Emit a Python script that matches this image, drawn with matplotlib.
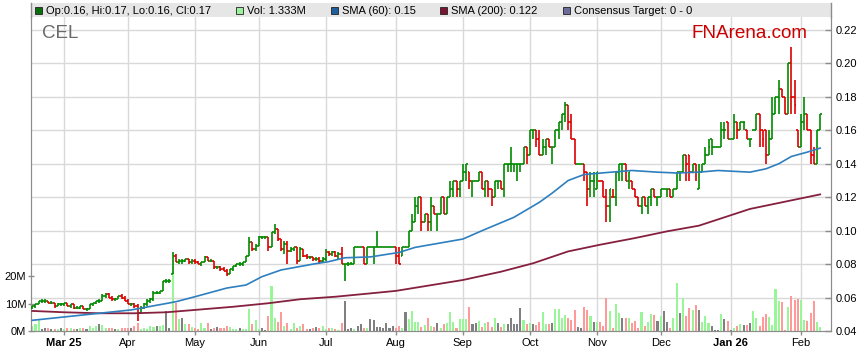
import numpy as np
import matplotlib
matplotlib.use('Agg')
import matplotlib.pyplot as plt
from matplotlib.patches import Rectangle
from matplotlib.lines import Line2D
from matplotlib.transforms import blended_transform_factory
from matplotlib.ticker import FormatStrFormatter

plt.rcParams['font.family'] = ['Liberation Sans', 'DejaVu Sans']

# daily OHLC (one entry per trading day, Feb 2025 - Feb 2026)
opens = [
    .054, .055, .056, .058, .058, .058, .057, .057, .055, .056,
    .056, .057, .055, .056, .054, .054, .055, .053, .053, .056,
    .057, .058, .058, .061, .062, .060, .059, .059, .061, .060,
    .058, .056, .056, .055, .051, .054, .056, .058, .059, .063,
    .063, .064, .070, .070, .074, .085, .081, .082, .082, .083,
    .081, .082, .081, .080, .081, .084, .082, .082, .078, .078,
    .077, .076, .074, .077, .079, .080, .080, .081, .085, .093,
    .089, .091, .096, .096, .096, .090, .099, .101, .095, .089,
    .092, .088, .089, .090, .082, .089, .085, .084, .084, .083,
    .083, .082, .083, .087, .086, .087, .085, .086, .080, .080,
    .080, .080, .090, .090, .090, .080, .090, .090, .090, .090,
    .090, .090, .090, .090, .090, .085, .085, .090, .090, .100,
    .105, .115, .120, .105, .110, .105, .115, .110, .110, .120,
    .110, .120, .125, .130, .125, .130, .135, .135, .130, .130,
    .130, .135, .125, .130, .125, .120, .130, .130, .125, .140,
    .140, .140, .140, .140, .140, .150, .145, .160, .160, .155,
    .145, .150, .155, .150, .150, .160, .165, .170, .175, .165,
    .155, .140, .140, .140, .135, .125, .130, .125, .130, .130,
    .120, .115, .120, .120, .135, .140, .140, .130, .130, .125,
    .120, .115, .120, .115, .120, .125, .120, .120, .125, .125,
    .125, .120, .125, .135, .135, .145, .145, .135, .140, .125,
    .135, .140, .145, .155, .150, .150, .150, .160, .165, .155,
    .155, .165, .160, .165, .160, .155, .160, .160, .170, .160,
    .160, .145, .155, .170, .180, .185, .180, .170, .200, .180,
    .160, .150, .165, .170, .160, .145, .140, .160,
]
highs = [
    .055, .056, .058, .059, .059, .058, .058, .057, .057, .057,
    .057, .057, .056, .056, .055, .055, .055, .054, .056, .057,
    .058, .059, .062, .063, .063, .061, .060, .061, .062, .061,
    .059, .057, .057, .056, .055, .057, .059, .060, .064, .064,
    .064, .070, .071, .071, .087, .086, .083, .083, .083, .083,
    .083, .083, .082, .081, .085, .084, .083, .082, .079, .079,
    .078, .077, .077, .079, .080, .081, .081, .085, .096, .093,
    .092, .097, .097, .097, .096, .099, .104, .101, .095, .094,
    .094, .090, .090, .090, .090, .089, .086, .085, .084, .084,
    .084, .084, .089, .088, .088, .088, .087, .090, .080, .081,
    .081, .090, .090, .090, .090, .090, .090, .090, .100, .090,
    .090, .090, .090, .090, .090, .090, .090, .090, .100, .110,
    .120, .120, .120, .110, .110, .120, .115, .110, .120, .120,
    .120, .130, .130, .130, .130, .140, .140, .135, .130, .130,
    .135, .135, .130, .130, .125, .130, .130, .130, .140, .140,
    .150, .140, .140, .140, .150, .150, .160, .160, .160, .160,
    .155, .155, .155, .150, .160, .165, .170, .177, .175, .170,
    .155, .140, .140, .140, .135, .135, .135, .135, .130, .130,
    .125, .125, .125, .135, .140, .140, .140, .135, .130, .125,
    .120, .120, .120, .120, .125, .125, .120, .125, .125, .125,
    .125, .125, .135, .135, .145, .145, .145, .140, .140, .140,
    .140, .150, .155, .155, .150, .150, .165, .165, .165, .155,
    .170, .165, .165, .165, .160, .155, .160, .170, .170, .160,
    .160, .160, .180, .180, .190, .185, .180, .200, .210, .190,
    .160, .170, .180, .170, .160, .150, .160, .170,
]
lows = [
    .053, .054, .056, .057, .057, .057, .056, .054, .055, .055,
    .055, .055, .054, .053, .053, .053, .053, .052, .053, .055,
    .056, .057, .058, .060, .060, .058, .058, .059, .059, .058,
    .056, .055, .054, .046, .050, .053, .055, .057, .058, .062,
    .062, .064, .069, .069, .074, .081, .080, .080, .081, .080,
    .080, .080, .080, .079, .081, .082, .081, .077, .077, .076,
    .076, .073, .074, .076, .078, .079, .079, .081, .085, .088,
    .088, .091, .095, .095, .088, .090, .098, .094, .088, .086,
    .080, .087, .088, .080, .082, .084, .083, .083, .082, .082,
    .080, .081, .082, .085, .085, .084, .083, .080, .070, .079,
    .080, .080, .090, .090, .080, .080, .090, .080, .090, .090,
    .090, .090, .090, .090, .080, .080, .085, .090, .090, .100,
    .105, .110, .100, .105, .100, .100, .110, .100, .110, .110,
    .110, .120, .120, .120, .120, .130, .130, .125, .120, .130,
    .130, .125, .120, .120, .115, .120, .125, .125, .120, .135,
    .135, .135, .130, .135, .140, .140, .145, .155, .150, .145,
    .145, .145, .150, .140, .150, .155, .160, .165, .160, .155,
    .140, .140, .140, .130, .115, .120, .120, .125, .130, .120,
    .105, .105, .120, .115, .130, .130, .130, .125, .125, .120,
    .115, .110, .115, .110, .115, .120, .115, .120, .125, .120,
    .120, .120, .125, .130, .135, .130, .130, .135, .130, .125,
    .135, .140, .145, .145, .150, .150, .150, .155, .155, .155,
    .155, .155, .160, .160, .155, .150, .160, .160, .150, .150,
    .140, .145, .155, .170, .170, .180, .170, .170, .170, .170,
    .150, .150, .160, .160, .140, .140, .140, .160,
]
closes = [
    .055, .056, .058, .058, .058, .057, .057, .055, .056, .056,
    .057, .055, .056, .054, .054, .055, .053, .053, .056, .057,
    .058, .058, .061, .062, .060, .059, .059, .061, .060, .058,
    .056, .056, .055, .051, .054, .056, .058, .059, .063, .063,
    .064, .070, .070, .070, .085, .081, .082, .082, .083, .081,
    .082, .081, .080, .081, .084, .082, .082, .078, .078, .077,
    .076, .074, .077, .079, .080, .080, .081, .085, .093, .089,
    .091, .096, .096, .096, .090, .099, .101, .095, .089, .092,
    .088, .089, .090, .082, .089, .085, .084, .084, .083, .083,
    .082, .083, .087, .086, .087, .085, .086, .080, .080, .080,
    .080, .090, .090, .090, .080, .090, .090, .090, .090, .090,
    .090, .090, .090, .090, .085, .080, .090, .090, .100, .105,
    .115, .120, .105, .110, .105, .115, .110, .110, .120, .110,
    .120, .125, .130, .125, .130, .135, .140, .130, .130, .130,
    .135, .125, .130, .125, .120, .130, .130, .125, .140, .140,
    .140, .140, .140, .140, .150, .145, .160, .160, .155, .145,
    .150, .155, .150, .150, .160, .165, .170, .175, .165, .155,
    .140, .140, .140, .135, .125, .130, .130, .135, .130, .120,
    .115, .125, .120, .135, .140, .140, .130, .135, .125, .120,
    .115, .120, .115, .120, .125, .120, .120, .125, .125, .125,
    .120, .125, .135, .135, .145, .140, .135, .140, .135, .135,
    .140, .145, .150, .150, .150, .150, .160, .160, .155, .155,
    .165, .160, .165, .165, .155, .155, .160, .170, .160, .155,
    .145, .155, .170, .180, .185, .180, .170, .200, .180, .175,
    .150, .165, .170, .160, .145, .140, .160, .170,
]
# volume in millions of shares
volumes = [
    1.8, 2.4, 4.5, 0.9, 1.2, 1.2, 0.8, 0.8, 0.6, 1.0,
    0.6, 1.0, 1.0, 0.8, 0.6, 1.0, 1.2, 0.8, 2.0, 1.2,
    2.0, 2.4, 2.3, 1.0, 1.0, 1.2, 0.8, 0.6, 1.2, 1.2,
    1.0, 1.2, 1.8, 3.0, 0.6, 1.2, 0.8, 1.8, 1.6, 1.8,
    2.0, 2.1, 7.3, 1.0, 21.5, 10.3, 4.2, 4.6, 2.4, 2.4,
    1.5, 1.0, 0.6, 3.0, 1.2, 3.0, 0.6, 1.2, 1.4, 1.2,
    1.2, 1.8, 1.6, 0.6, 0.8, 1.0, 0.6, 0.8, 7.9, 2.4,
    3.9, 0.8, 1.2, 0.5, 5.5, 16.4, 4.8, 3.4, 6.9, 1.8,
    3.0, 0.8, 3.0, 1.0, 1.8, 2.6, 0.8, 0.8, 1.2, 1.4,
    1.2, 1.8, 0.6, 1.2, 1.2, 0.6, 0.4, 3.0, 11.0, 0.6,
    1.2, 0.6, 1.8, 2.4, 1.2, 1.2, 4.2, 3.9, 1.6, 1.5,
    1.0, 2.8, 1.0, 2.0, 1.2, 1.8, 1.0, 6.9, 4.2, 7.3,
    3.3, 3.3, 1.6, 2.1, 4.6, 1.8, 1.6, 2.8, 1.2, 2.4,
    2.8, 6.9, 3.3, 1.2, 4.2, 4.2, 4.5, 8.7, 2.4, 2.8,
    3.6, 1.5, 3.0, 3.4, 1.5, 4.8, 3.0, 1.6, 2.6, 2.7,
    4.8, 2.4, 2.7, 8.5, 4.0, 2.7, 3.0, 2.4, 2.2, 3.4,
    7.0, 2.6, 2.6, 2.9, 8.0, 8.0, 4.6, 5.8, 4.6, 4.0,
    7.6, 1.5, 1.2, 8.6, 7.6, 5.5, 3.4, 3.4, 3.2, 2.0,
    12.0, 7.4, 1.0, 9.8, 6.4, 4.7, 4.7, 4.7, 2.9, 3.8,
    1.1, 7.0, 1.7, 3.2, 6.2, 5.8, 3.8, 5.3, 7.2, 3.2,
    1.1, 4.7, 17.5, 6.5, 12.0, 5.6, 8.2, 7.5, 9.5, 7.6,
    3.4, 5.5, 2.9, 1.9, 0.3, 0.3, 6.1, 4.4, 3.8, 0.3,
    1.0, 1.9, 2.5, 2.3, 2.3, 2.9, 7.4, 4.7, 1.9, 5.2,
    6.1, 5.2, 2.3, 15.3, 11.0, 10.7, 0.3, 8.9, 12.9, 11.3,
    11.6, 11.4, 4.0, 3.8, 6.5, 11.0, 3.4, 1.333,
]

# moving averages at sample days
sma60_day = [0, 16, 31, 45, 51, 61, 67, 72, 78, 88, 93, 98, 106, 115, 120, 135, 141,
             151, 159, 163, 168, 173, 179, 188, 196, 202, 209, 215, 225, 230, 234,
             238, 243, 247]
sma60_val = [.0464, .0496, .0526, .0575, .0605, .0657, .0675, .0725, .0765, .0800,
             .0815, .0838, .0843, .0870, .0900, .0950, .1000, .1080, .1170, .1225,
             .1300, .1336, .1346, .1360, .1350, .1345, .1350, .1360, .1350, .1370,
             .1400, .1444, .1470, .1494]
sma200_day = [0, 10, 21, 32, 42, 51, 63, 74, 84, 95, 106, 114, 135, 147, 157, 168, 178,
              189, 199, 209, 225, 247]
sma200_val = [.0520, .0512, .0506, .0506, .0512, .0526, .0545, .0566, .0590, .0605,
              .0625, .0640, .0705, .0755, .0805, .0876, .0916, .0956, .0996, .1030,
              .1130, .1217]

# month labels and the trading day they sit on
month_labels = ['Mar 25', 'Apr', 'May', 'Jun', 'Jul', 'Aug', 'Sep', 'Oct', 'Nov', 'Dec', 'Jan 26', 'Feb']
month_day = [10, 30, 51, 71, 92, 114, 135, 156, 177, 197, 219, 241]

price_ticks = [0.04, 0.06, 0.08, 0.10, 0.12, 0.14, 0.16, 0.18, 0.20, 0.22]
vol_ticks = [0, 10, 20]
vol_tick_labels = ['0M', '10M', '20M']

legend_items = [
    ('#0a6e0a', 'Op:0.16, Hi:0.17, Lo:0.16, Cl:0.17'),
    ('#9cf29c', 'Vol: 1.333M'),
    ('#1f5f9e', 'SMA (60): 0.15'),
    ('#7a1432', 'SMA (200): 0.122'),
    ('#6c6c9a', 'Consensus Target: 0 - 0'),
]

UP, DOWN = '#008a00', '#dd0000'
GRID = '#d9d9d9'
SPINE = '#8c8c8c'

o = np.array(opens)
h = np.array(highs)
l = np.array(lows)
c = np.array(closes)
v = np.array(volumes)
x = np.arange(len(c))
prev = np.concatenate([[o[0]], c[:-1]])

bar_col = np.where(c < prev, DOWN, UP)
vol_col = np.where(c > prev, '#98f598', np.where(c < prev, '#ff9a9a', '#808080'))

# ---- layout (pixels) ----
W, H = 859, 363
L, R, B, T = 31, 831, 331, 17
fig = plt.figure(figsize=(W / 100, H / 100), dpi=100)
ax_v = fig.add_axes([L / W, 1 - B / H, (R - L) / W, (B - T) / H])
ax = ax_v.twinx()

p_lo, p_hi = 0.04, 0.04 + (B - T) / 1672.0
ax.set_ylim(p_lo, p_hi)
ax_v.set_ylim(0, (B - T) / 2.75)
ax_v.set_xlim(-0.4, 250.4)

# grid, kept under volume bars
ax_v.set_axisbelow(True)
ax_v.xaxis.grid(True, color=GRID, lw=1)
tr = blended_transform_factory(ax_v.transAxes, ax.transData)
for p in price_ticks[1:]:
    ax_v.add_line(Line2D([0, 1], [p, p], transform=tr, color=GRID, lw=1, zorder=0.5))

# volume
ax_v.bar(x, v, width=0.65, color=vol_col, zorder=2)

# OHLC bars
ax.vlines(x, l, h, colors=bar_col, lw=1.2, zorder=3)
ax.hlines(o, x - 0.5, x, colors=bar_col, lw=1.2, zorder=3)
ax.hlines(c, x, x + 0.5, colors=bar_col, lw=1.2, zorder=3)

# moving averages
ax.plot(sma200_day, sma200_val, color='#85203f', lw=1.3, zorder=4)
ax.plot(sma60_day, sma60_val, color='#2d7fbf', lw=1.2, zorder=4)

# axes cosmetics
for a in (ax, ax_v):
    a.spines['top'].set_visible(False)
    for s in ('left', 'right', 'bottom'):
        a.spines[s].set_color(SPINE)

ax.set_yticks(price_ticks)
ax.yaxis.set_major_formatter(FormatStrFormatter('%.2f'))
ax.tick_params(axis='y', direction='in', length=4, width=1, color=SPINE,
               labelsize=8, pad=3, labelcolor='black')

ax_v.set_yticks(vol_ticks)
ax_v.set_yticklabels(vol_tick_labels)
ax_v.tick_params(axis='y', direction='inout', length=5, width=1, color=SPINE,
                 labelsize=8, pad=1, labelcolor='black')

ax_v.set_xticks(month_day)
ax_v.set_xticklabels(month_labels)
ax_v.tick_params(axis='x', direction='out', length=3, width=1, color=SPINE,
                 labelsize=8, pad=2, labelcolor='black')
for t in ax_v.get_xticklabels():
    if ' ' in t.get_text():
        t.set_fontweight('bold')

# legend band on top
fig.add_artist(Rectangle((L / W, 1 - T / H), (R + 1 - L) / W, 14 / H,
                         transform=fig.transFigure, facecolor='#e6e6e6',
                         edgecolor='none', zorder=0))
for xp in (L, R):
    fig.add_artist(Line2D([xp / W, xp / W], [1 - 3 / H, 1 - T / H],
                          transform=fig.transFigure, color=SPINE, lw=1))

legend_x = [35, 236, 331, 440, 563]
for (col, txt), xp in zip(legend_items, legend_x):
    fig.add_artist(Rectangle((xp / W, 1 - 14 / H), 7 / W, 7 / H,
                             transform=fig.transFigure, facecolor=col,
                             edgecolor='#222222', lw=0.6))
    fig.text((xp + 11) / W, 1 - 10.5 / H, txt, fontsize=8, va='center', ha='left')

fig.text(42 / W, 1 - 38.5 / H, 'CEL', fontsize=13.5, color='#6a6a6a', va='baseline')
fig.text(691.5 / W, 1 - 38.5 / H, 'FNArena.com', fontsize=13.6, color='#cc0000', va='baseline')

fig.savefig('out.png', dpi=100)
